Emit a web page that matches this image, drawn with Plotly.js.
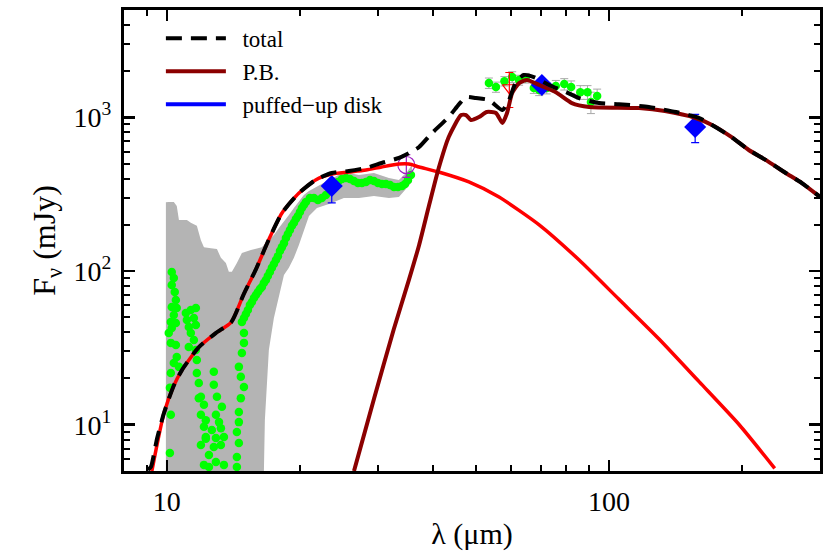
<!DOCTYPE html>
<html>
<head>
<meta charset="utf-8">
<script src="https://cdn.plot.ly/plotly-3.0.1.min.js"></script>
<style>
  html, body { margin: 0; padding: 0; background: #fff; }
  #plot { width: 830px; height: 554px; }
</style>
</head>
<body>
<div id="plot"></div>
<script>
// Spectrum uncertainty band (gray)
const bandLam   = [9.95, 10.10, 10.37, 10.53, 10.65, 11.10, 11.33, 11.69, 11.94, 12.13, 12.58, 12.98, 13.25, 13.60, 13.81, 14.03, 14.40, 14.78, 15.49, 15.98, 16.40, 16.66, 17.01, 17.46, 17.92, 18.40, 18.88, 19.38, 19.89, 20.41, 20.96, 21.85, 23.26, 25.14, 27.19, 29.40, 31.79, 33.48, 34.91, 35.84];
const bandUpper = [280, 282, 282, 265, 215, 215, 206, 197, 159, 143, 141, 139, 122, 113, 99, 99, 113, 131, 137, 141, 143, 150, 159, 172, 191, 209, 232, 257, 286, 313, 332, 353, 391, 441, 422, 435, 403, 391, 441, 490];
const bandLower = [1, 1, 1, 1, 1, 1, 1, 1, 1, 1, 1, 1, 1, 1, 1, 1, 1, 1, 1, 1, 1, 10.7, 30.7, 49.5, 69.9, 94.3, 105, 122, 148, 185, 228, 257, 273, 299, 299, 308, 299, 303, 347, 380];

// IRS spectrum points (green)
const irsLam = [
  10.26, 10.37, 10.26, 10.42, 10.48, 10.26, 10.53, 10.37, 10.21, 10.48, 10.26, 10.10, 10.21, 10.48, 10.53, 10.37, 10.65, 10.21, 10.16, 10.21, 10.16,
  11.04, 11.33, 11.63, 11.10, 11.51, 11.21, 11.63, 11.33, 11.51, 11.21, 11.63, 11.69, 11.69, 11.81, 11.94, 12.25, 12.45,
  12.77, 12.77, 11.81, 12.13, 12.98, 13.32, 11.94, 12.25, 12.91, 13.12, 12.13, 12.64, 13.25, 12.25, 12.91, 13.46, 11.94, 12.77, 13.25, 12.13, 12.91, 13.46, 12.45,
  14.94, 14.94, 14.78, 14.55, 14.70, 14.94, 14.70, 14.55, 14.55, 14.40, 14.55, 14.40, 14.40,
  14.78, 14.94, 15.09, 15.25, 15.41, 15.57, 15.74, 15.90, 16.07, 16.24, 16.40, 16.57, 16.75, 16.92, 17.10, 17.28, 17.46, 17.65, 17.83, 18.02,
  18.20, 18.40, 18.59, 18.78, 18.98, 19.18, 19.38, 19.58, 19.79, 20.00, 20.20, 20.41, 20.63, 21.06, 21.51, 21.96, 22.42,
  22.89, 23.38, 23.87, 24.37, 24.89, 25.41, 25.95, 26.49, 27.05, 27.62, 28.20, 28.80, 29.40, 30.02, 30.65, 31.30, 31.96, 32.63, 33.32, 34.02, 34.56, 35.10, 35.65
];
const irsFlux = [
  98.7, 90.2, 81.2, 73.1, 64.9, 58.4, 57.5, 51.8, 46.6, 45.9, 42.6, 39.6, 34.1, 33.0, 27.6, 25.2, 23.8, 21.7, 17.4, 11.6, 6.55,
  53.4, 55.8, 57.5, 48.1, 49.5, 43.3, 44.6, 39.6, 35.6, 32.1, 30.7, 26.4, 21.7, 18.7, 15.2, 8.1, 5.31,
  22.1, 18.2, 14.9, 13.5, 15.2, 13.1, 11.6, 10.7, 11.6, 10.4, 9.7, 9.25, 9.5, 8.33, 8.21, 8.33, 7.39, 7.17, 7.39, 5.48, 5.73, 5.48, 6.36,
  39.6, 34.1, 29.3, 23.8, 20.5, 17.6, 14.9, 12.1, 10.4, 8.98, 7.61, 6.17, 5.31,
  46.6, 49.5, 52.6, 55.8, 60.2, 62.9, 66.8, 69.9, 73.1, 76.5, 78.8, 83.7, 87.5, 92.9, 98.7, 105, 111, 118, 125, 135,
  143, 152, 164, 174, 185, 197, 206, 218, 228, 242, 257, 269, 282, 299, 299, 290, 299,
  313, 337, 358, 380, 397, 403, 397, 386, 374, 374, 380, 391, 386, 374, 369, 369, 363, 352, 352, 358, 369, 391, 422
];

// Far-IR spectrum points (green, gray error bars)
const firLam  = [53.5, 55.5, 58.0, 60.4, 62.6, 64.8, 67.6, 69.5, 72.3, 75.8, 79.2, 82.1, 86.1, 89.4, 91.0, 94.0];
const firFlux = [1674, 1577, 1722, 1832, 1750, 1803, 1552, 1506, 1552, 1600, 1647, 1577, 1460, 1460, 1259, 1378];
const firErr  = [130, 120, 120, 150, 130, 130, 120, 120, 130, 140, 140, 150, 150, 150, 200, 150];

// Photometry
const photLam  = [23.6, 70.5, 156.6];
const photFlux = [358, 1625, 866];
const photErr  = [80, 60, 180];
const circLam = [34.8], circFlux = [490], circErr = [83];
const triLam = [59.5], triFlux = [1560], triErr = [400];

// Model curves
const diskLam  = [9.25, 9.5, 9.85, 10.37, 10.81, 11.8, 12.9, 13.99, 14.9, 15.9, 17.0, 18.2, 19.9, 21.7, 23.6, 25.8, 28.2, 30.6, 33.5, 35.3, 37.2, 41.2, 48.2, 56.4, 69.5, 85.6, 105.3, 129.9, 160, 197, 237];
const diskFlux = [5.0, 7.4, 11.9, 18.0, 22.6, 31.9, 39.5, 46.6, 70, 102.6, 160, 238, 322, 392, 428, 441, 455, 476, 497, 497, 476, 441, 380, 303, 200, 118, 65.5, 36, 19, 10, 5.2];

const pbLam  = [26.5, 29.4, 32.6, 35.3, 37.2, 39.2, 41.2, 43.4, 46.3, 47.5, 48.7, 50.8, 52.9, 55.5, 57.4, 58.8, 60.4, 62.6, 65.2, 69.5, 75.8, 82.4, 90.2, 117, 133.8, 157, 171, 189, 207, 226, 251, 273, 300];
const pbFlux = [5.0, 14.7, 41.8, 88.3, 148, 270, 469, 746, 1036, 1036, 962, 1006, 1084, 1068, 920, 1068, 1441, 1673, 1752, 1626, 1460, 1240, 1169, 1151, 1100, 991, 892, 746, 614, 529, 435, 374, 304];

const totLam  = [9.06, 9.2, 9.5, 9.85, 10.37, 10.81, 11.8, 12.9, 13.99, 14.9, 15.9, 17.0, 18.2, 19.9, 21.7, 23.6, 25.8, 28.2, 30.6, 33.5, 35.3, 37.2, 39.8, 43.4, 45.8, 47.5, 50.0, 53.5, 57.4, 59.4, 61.6, 64.2, 67.6, 73.2, 80.0, 85.6, 95, 105.3, 123, 141.8, 160, 171, 189, 207, 226, 251, 273, 300];
const totFlux = [5.1, 5.3, 8.1, 11.9, 18.0, 22.6, 31.9, 39.5, 46.6, 70, 102.6, 160, 238, 322, 392, 435, 448, 469, 505, 545, 586, 642, 792, 1006, 1220, 1357, 1336, 1297, 1117, 1297, 1700, 1888, 1830, 1626, 1460, 1335, 1240, 1220, 1169, 1084, 991, 892, 746, 614, 529, 435, 374, 304];

const FONT = 'Liberation Serif';
const NB = '\u00a0\u00a0';

const traces = [
  { x: bandLam, y: bandLower, mode: 'lines', line: { width: 0, color: '#b4b4b4' }, showlegend: false, hoverinfo: 'skip' },
  { x: bandLam, y: bandUpper, mode: 'lines', line: { width: 0, color: '#b4b4b4' }, fill: 'tonexty', fillcolor: '#b4b4b4', showlegend: false, hoverinfo: 'skip' },
  { x: irsLam, y: irsFlux, mode: 'markers', marker: { color: '#00ff00', size: 8.5 }, showlegend: false },
  { x: firLam, y: firFlux, mode: 'markers', marker: { color: '#00ff00', size: 8.5 },
    error_y: { type: 'data', array: firErr, color: '#a8a8a8', thickness: 1, width: 4 }, showlegend: false },
  { x: photLam, y: photFlux, mode: 'markers', marker: { symbol: 'diamond', color: '#0000ff', size: 17 },
    error_y: { type: 'data', array: photErr, color: '#0000ff', thickness: 1.2, width: 4 }, showlegend: false },
  { x: circLam, y: circFlux, mode: 'markers', marker: { symbol: 'circle-open', color: '#a020c0', size: 17, line: { width: 1.2 } },
    error_y: { type: 'data', array: circErr, color: '#a020c0', thickness: 1.2, width: 4 }, showlegend: false },
  { x: triLam, y: triFlux, mode: 'markers', marker: { symbol: 'triangle-down-open', color: '#ff0000', size: 12, line: { width: 1.2 } },
    error_y: { type: 'data', array: triErr, color: '#ff0000', thickness: 1.2, width: 4 }, showlegend: false },
  { x: diskLam, y: diskFlux, mode: 'lines', line: { color: '#ff0000', width: 3.5, shape: 'spline', smoothing: 0.6 }, showlegend: false },
  { x: pbLam, y: pbFlux, mode: 'lines', name: NB + 'P.B.', legendrank: 2, legendgroup: 'b',
    line: { color: '#8b0000', width: 4, shape: 'spline', smoothing: 0.6 } },
  { x: [null], y: [null], mode: 'lines', name: NB + 'puffed\u2212up disk', legendrank: 3, legendgroup: 'c',
    line: { color: '#0000ff', width: 4 } },
  { x: totLam, y: totFlux, mode: 'lines', name: NB + 'total', legendrank: 1, legendgroup: 'a',
    line: { color: '#000000', width: 4, dash: '16px,9px', shape: 'spline', smoothing: 0.6 } }
];

const axisCommon = {
  type: 'log',
  showgrid: false,
  zeroline: false,
  showline: true,
  linecolor: '#000',
  linewidth: 3,
  mirror: 'allticks',
  ticks: 'inside',
  ticklen: 11,
  tickwidth: 2.5,
  tickcolor: '#000',
  tickmode: 'array',
  tickfont: { family: FONT, size: 28, color: '#000' }
};

const layout = {
  width: 830,
  height: 554,
  margin: { l: 124, r: 10, t: 10, b: 83 },
  paper_bgcolor: '#fff',
  plot_bgcolor: '#fff',
  font: { family: FONT, color: '#000' },
  xaxis: Object.assign({}, axisCommon, {
    range: [Math.log10(8), Math.log10(300)],
    tickvals: [10, 100],
    ticktext: ['10', '100'],
    ticklabelstandoff: 3,
    minor: { tickmode: 'array', tickvals: [8, 9, 20, 30, 40, 50, 60, 70, 80, 90, 200, 300],
             ticks: 'inside', ticklen: 6, tickwidth: 2, tickcolor: '#000' },
    title: { text: '\u03bb (\u03bcm)', font: { family: FONT, size: 30, color: '#000' }, standoff: 8 }
  }),
  yaxis: Object.assign({}, axisCommon, {
    range: [Math.log10(5), Math.log10(5000)],
    tickvals: [10, 100, 1000],
    ticktext: ['10<sup>1</sup>', '10<sup>2</sup>', '10<sup>3</sup>'],
    ticklabelstandoff: 4,
    minor: { tickmode: 'array', tickvals: [6, 7, 8, 9, 20, 30, 40, 50, 60, 70, 80, 90, 200, 300, 400, 500, 600, 700, 800, 900, 2000, 3000, 4000],
             ticks: 'inside', ticklen: 6, tickwidth: 2, tickcolor: '#000' },
    title: { text: 'F<sub>\u03bd</sub> (mJy)', font: { family: FONT, size: 32, color: '#000' }, standoff: 9 }
  }),
  legend: {
    x: 0.053, y: 0.985, xanchor: 'left', yanchor: 'top',
    bgcolor: 'rgba(0,0,0,0)',
    font: { family: FONT, size: 23, color: '#000' },
    itemwidth: 60,
    traceorder: 'grouped',
    tracegroupgap: 0
  },
  showlegend: true
};

Plotly.newPlot('plot', traces, layout, { displayModeBar: false, staticPlot: true });
</script>
</body>
</html>
